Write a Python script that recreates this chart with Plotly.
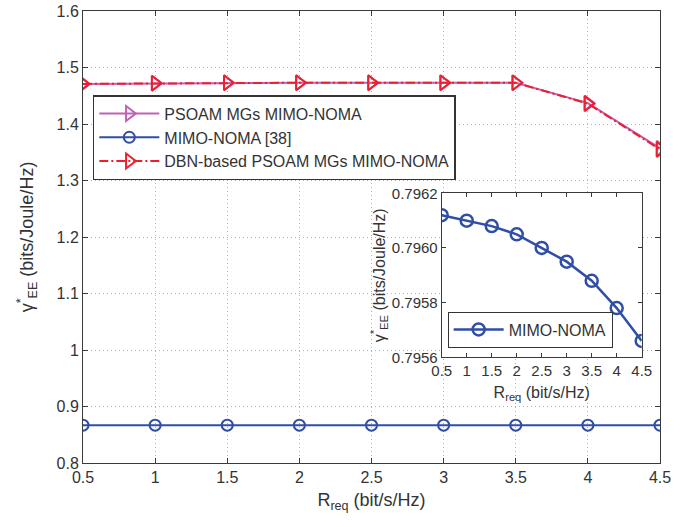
import plotly.graph_objects as go

r_req = [0.5, 1.0, 1.5, 2.0, 2.5, 3.0, 3.5, 4.0, 4.5]
psoam = [1.471, 1.472, 1.473, 1.473, 1.473, 1.473, 1.473, 1.437, 1.357]
mimo_noma_38 = [0.867, 0.867, 0.867, 0.867, 0.867, 0.867, 0.867, 0.867, 0.867]
dbn_psoam = [1.471, 1.472, 1.473, 1.473, 1.473, 1.473, 1.473, 1.436, 1.355]
inset_mimo = [0.79612, 0.79610, 0.79608, 0.79605, 0.79600, 0.79595, 0.79588, 0.79578, 0.79566]

x_ticks = [0.5, 1, 1.5, 2, 2.5, 3, 3.5, 4, 4.5]
x_tick_text = ["0.5", "1", "1.5", "2", "2.5", "3", "3.5", "4", "4.5"]
y_ticks = [0.8, 0.9, 1.0, 1.1, 1.2, 1.3, 1.4, 1.5, 1.6]
y_tick_text = ["0.8", "0.9", "1", "1.1", "1.2", "1.3", "1.4", "1.5", "1.6"]
inset_y_ticks = [0.7956, 0.7958, 0.7960, 0.7962]
inset_y_text = ["0.7956", "0.7958", "0.7960", "0.7962"]

C_MAG = "#c062b4"
C_BLUE = "#2f4ea6"
C_RED = "#ee1f2d"
TXT = "#333333"
FONT = "Liberation Sans, Arial, sans-serif"

fig = go.Figure()
fig.add_trace(go.Scatter(
    x=r_req, y=psoam, name="PSOAM MGs MIMO-NOMA", mode="lines+markers",
    line=dict(color=C_MAG, width=2),
    marker=dict(symbol="triangle-right-open", size=13, color=C_MAG, line=dict(width=2)),
))
fig.add_trace(go.Scatter(
    x=r_req, y=mimo_noma_38, name="MIMO-NOMA [38]", mode="lines+markers",
    line=dict(color=C_BLUE, width=2),
    marker=dict(symbol="circle-open", size=11, color=C_BLUE, line=dict(width=2)),
))
fig.add_trace(go.Scatter(
    x=r_req, y=dbn_psoam, name="DBN-based PSOAM MGs MIMO-NOMA", mode="lines+markers",
    line=dict(color=C_RED, width=2, dash="9px,3px,2px,3px"),
    marker=dict(symbol="triangle-right-open", size=13, color=C_RED, line=dict(width=2)),
))
fig.add_trace(go.Scatter(
    x=r_req, y=inset_mimo, name="MIMO-NOMA", mode="lines+markers",
    xaxis="x2", yaxis="y2", legend="legend2",
    line=dict(color=C_BLUE, width=2.5),
    marker=dict(symbol="circle-open", size=12, color=C_BLUE, line=dict(width=2.5)),
))

axis_common = dict(
    showline=True, linecolor="#3a3a3a", linewidth=1, mirror="ticks",
    ticks="inside", ticklen=5, tickcolor="#3a3a3a", zeroline=False,
    tickfont=dict(family=FONT, size=16, color=TXT), automargin=False,
)

fig.update_layout(
    width=689, height=527,
    margin=dict(l=83, r=29, t=11, b=64),
    paper_bgcolor="white", plot_bgcolor="white",
    font=dict(family=FONT, color=TXT),
    xaxis=dict(
        **axis_common, range=[0.5, 4.5], tickvals=x_ticks, ticktext=x_tick_text,
        showgrid=True, gridcolor="#b0b0b0", griddash="1px,3px", gridwidth=1,
        title=dict(text="R<sub>req</sub> (bit/s/Hz)", font=dict(family=FONT, size=18, color=TXT), standoff=8),
    ),
    yaxis=dict(
        **axis_common, range=[0.8, 1.6], tickvals=y_ticks, ticktext=y_tick_text,
        showgrid=True, gridcolor="#b0b0b0", griddash="1px,3px", gridwidth=1,
        title=dict(text="γ<sup>*</sup><sub>EE</sub> (bits/Joule/Hz)", font=dict(family=FONT, size=18, color=TXT), standoff=18),
    ),
    xaxis2=dict(
        showline=True, linecolor="#3a3a3a", linewidth=1, mirror="ticks",
        ticks="inside", ticklen=4, tickcolor="#3a3a3a", zeroline=False, showgrid=False,
        tickfont=dict(family=FONT, size=15, color=TXT), automargin=False,
        domain=[0.6217, 0.9683], anchor="y2", range=[0.5, 4.5],
        tickvals=x_ticks, ticktext=x_tick_text,
        title=dict(text="R<sub>req</sub> (bit/s/Hz)", font=dict(family=FONT, size=16, color=TXT), standoff=8),
    ),
    yaxis2=dict(
        showline=True, linecolor="#3a3a3a", linewidth=1, mirror="ticks",
        ticks="inside", ticklen=4, tickcolor="#3a3a3a", zeroline=False, showgrid=False,
        tickfont=dict(family=FONT, size=15, color=TXT), automargin=False,
        domain=[0.2338, 0.5967], anchor="x2", range=[0.7956, 0.7962],
        tickvals=inset_y_ticks, ticktext=inset_y_text,
        title=dict(text="γ<sup>*</sup><sub>EE</sub> (bits/Joule/Hz)", font=dict(family=FONT, size=16, color=TXT), standoff=2),
    ),
    legend=dict(
        x=0.017, y=0.814, xanchor="left", yanchor="top",
        bgcolor="white", bordercolor="#333333", borderwidth=1.5,
        font=dict(family=FONT, size=16, color=TXT),
        tracegroupgap=0, itemwidth=60,
    ),
    legend2=dict(
        x=0.632, y=0.335, xanchor="left", yanchor="top",
        bgcolor="white", bordercolor="#333333", borderwidth=1,
        font=dict(family=FONT, size=16, color=TXT),
        itemwidth=50,
    ),
    showlegend=True,
)

fig.write_html("out.html")
